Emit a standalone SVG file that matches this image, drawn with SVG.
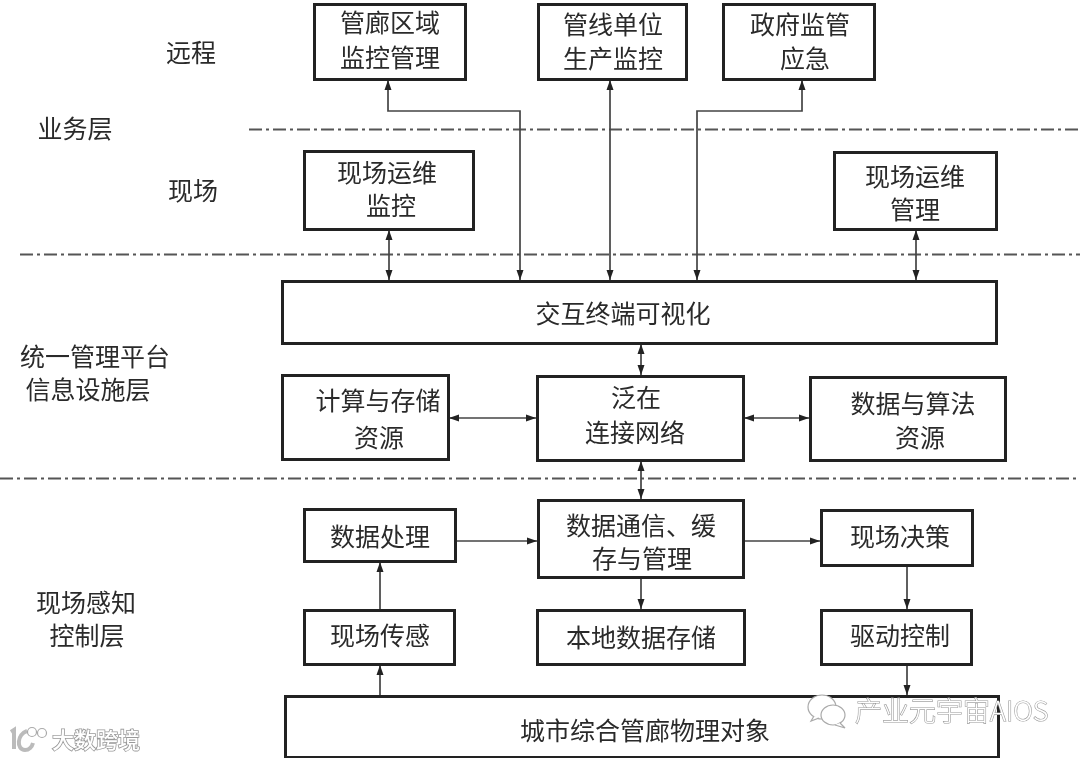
<svg xmlns="http://www.w3.org/2000/svg" width="1080" height="759" viewBox="0 0 1080 759">
<style>
text{font-family:"Noto Sans CJK SC","Liberation Sans",sans-serif;font-size:25px;fill:#2a2a2a;text-anchor:middle;font-weight:400}
.box rect{fill:#fff;stroke:#222;stroke-width:3}
.dash{fill:none;stroke:#555;stroke-width:2;stroke-dasharray:13 4 3 4}
.con{fill:none;stroke:#444;stroke-width:1.7}
.wm{fill:#fff;stroke:#999;stroke-width:1.6;paint-order:stroke;text-anchor:start;font-weight:500}
.wmi{fill:#fff;stroke:#aaa;stroke-width:1.2}
.wml{fill:none;stroke:#bbb;stroke-width:4}
</style>
<defs>
<marker id="a" markerUnits="userSpaceOnUse" markerWidth="10" markerHeight="8" refX="10" refY="4" orient="auto-start-reverse" viewBox="0 0 10 8"><path d="M0 .5L10 4L0 7.500Z" fill="#222"/></marker>
<filter id="soft" x="0" y="0" width="100%" height="100%"><feGaussianBlur stdDeviation="0.45"/></filter>
</defs>
<rect width="1080" height="759" fill="#fff"/>
<g filter="url(#soft)">
<g id="dividers">
<path class="dash" d="M249 129.500H1080"/>
<path class="dash" d="M20 254.500H1080"/>
<path class="dash" d="M0 478.500H1080"/>
</g>
<g id="labels">
<text x="191" y="62">远程</text>
<text x="75" y="138">业务层</text>
<text x="193" y="200">现场</text>
<text x="95" y="366">统一管理平台</text>
<text x="88" y="399">信息设施层</text>
<text x="86" y="612">现场感知</text>
<text x="87" y="645">控制层</text>
</g>
<g id="connectors" class="con">
<path marker-start="url(#a)" marker-end="url(#a)" d="M388 80V111H520V280"/>
<path marker-start="url(#a)" marker-end="url(#a)" d="M610 80V280"/>
<path marker-start="url(#a)" marker-end="url(#a)" d="M802 80V111H697V280"/>
<path marker-start="url(#a)" marker-end="url(#a)" d="M389 230V280"/>
<path marker-start="url(#a)" marker-end="url(#a)" d="M916 230V280"/>
<path marker-start="url(#a)" marker-end="url(#a)" d="M641 344V375"/>
<path marker-start="url(#a)" marker-end="url(#a)" d="M449 418H536"/>
<path marker-start="url(#a)" marker-end="url(#a)" d="M744 418H809"/>
<path marker-start="url(#a)" marker-end="url(#a)" d="M641 461V499"/>
<path marker-end="url(#a)" d="M456 541H537"/>
<path marker-end="url(#a)" d="M745 541H820"/>
<path marker-end="url(#a)" d="M380 609V562"/>
<path marker-end="url(#a)" d="M641 578V609"/>
<path marker-end="url(#a)" d="M907 566V609"/>
<path marker-end="url(#a)" d="M380 695V665"/>
<path marker-end="url(#a)" d="M907 665V695"/>
</g>
<g id="n1" class="box"><rect x="314.500" y="4.500" width="151" height="75"/><text x="390" y="32">管廊区域</text><text x="390" y="67">监控管理</text></g>
<g id="n2" class="box"><rect x="538.500" y="4.500" width="148" height="75"/><text x="613" y="34">管线单位</text><text x="613" y="68">生产监控</text></g>
<g id="n3" class="box"><rect x="723.500" y="4.500" width="151" height="75"/><text x="800" y="34">政府监管</text><text x="805" y="68">应急</text></g>
<g id="n4" class="box"><rect x="304.500" y="151.500" width="169" height="78"/><text x="387" y="182">现场运维</text><text x="391" y="215">监控</text></g>
<g id="n5" class="box"><rect x="834.500" y="152.500" width="162" height="77"/><text x="915" y="186">现场运维</text><text x="915" y="219">管理</text></g>
<g id="n6" class="box"><rect x="282.500" y="281.500" width="714" height="62"/><text x="623" y="323">交互终端可视化</text></g>
<g id="n7" class="box"><rect x="282.500" y="375.500" width="166" height="84"/><text x="378" y="410">计算与存储</text><text x="379" y="447">资源</text></g>
<g id="n8" class="box"><rect x="537.500" y="376.500" width="206" height="84"/><text x="636" y="407">泛在</text><text x="635" y="442">连接网络</text></g>
<g id="n9" class="box"><rect x="810.500" y="377.500" width="195" height="83"/><text x="913" y="413">数据与算法</text><text x="920" y="447">资源</text></g>
<g id="n10" class="box"><rect x="304.500" y="509.500" width="151" height="52"/><text x="380" y="546">数据处理</text></g>
<g id="n11" class="box"><rect x="538.500" y="500.500" width="205" height="77"/><text x="641" y="535">数据通信、缓</text><text x="642" y="568">存与管理</text></g>
<g id="n12" class="box"><rect x="821.500" y="510.500" width="151" height="55"/><text x="900" y="546">现场决策</text></g>
<g id="n13" class="box"><rect x="304.500" y="610.500" width="150" height="54"/><text x="380" y="645">现场传感</text></g>
<g id="n14" class="box"><rect x="537.500" y="610.500" width="207" height="54"/><text x="641" y="647">本地数据存储</text></g>
<g id="n15" class="box"><rect x="821.500" y="610.500" width="150" height="54"/><text x="900" y="645">驱动控制</text></g>
<g id="n16" class="box"><rect x="285.500" y="696.500" width="713" height="61"/><text x="645" y="740">城市综合管廊物理对象</text></g>
<g id="watermarks">
<path class="wml" d="M11 732L14 730V749M27 731C17 734 16 750 25 750C29 750 32 747 33 743"/>
<circle class="wmi" cx="32" cy="732" r="4.500"/><circle class="wmi" cx="42" cy="733" r="4.500"/>
<text class="wm" x="52" y="748" style="font-size:22px">大数跨境</text>
<ellipse class="wmi" cx="822" cy="707" rx="14" ry="12"/>
<path class="wmi" d="M814 716L811 721L819 718"/>
<ellipse class="wmi" cx="833" cy="715" rx="12" ry="10"/>
<path class="wmi" d="M840 723L845 728L835 725"/>
<text class="wm" x="855" y="721" style="font-size:27px;font-weight:300;stroke-width:1.2">产业元宇宙AIOS</text>
</g>
</g>
</svg>
